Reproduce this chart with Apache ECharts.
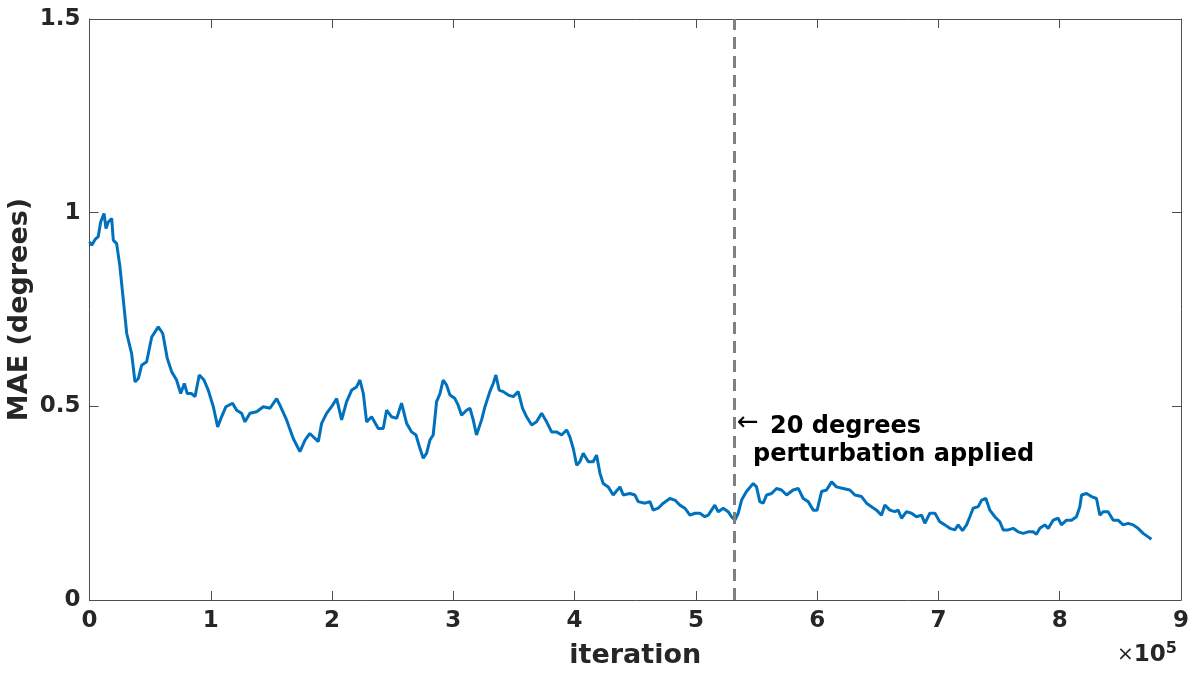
<!DOCTYPE html>
<html>
<head>
	<meta charset="utf-8">
	<title>MAE</title>
</head>
<body style="margin:0">
	<div style="width:1201px;height:677px;" id="chart1"></div>

	<script src="https://cdn.jsdelivr.net/npm/echarts@6/dist/echarts.min.js"></script>
	<script>
	// iteration in units of 1e5
	var iters = [0,0.018,0.046,0.072,0.092,0.120,0.136,0.155,0.183,0.196,0.224,0.251,0.279,0.307,0.347,0.375,0.403,0.430,0.471,0.513,
		0.567,0.604,0.641,0.678,0.718,0.752,0.782,0.806,0.842,0.870,0.905,0.944,0.979,1.021,1.057,1.089,1.125,1.180,1.213,1.254,
		1.282,1.323,1.378,1.433,1.488,1.543,1.570,1.625,1.680,1.735,1.777,1.817,1.859,1.887,1.914,1.955,1.996,2.038,2.079,2.120,
		2.162,2.202,2.230,2.258,2.285,2.326,2.381,2.422,2.450,2.491,2.533,2.573,2.615,2.656,2.692,2.725,2.752,2.780,2.807,2.834,
		2.862,2.890,2.916,2.944,2.972,3.013,3.040,3.068,3.109,3.137,3.164,3.191,3.233,3.261,3.301,3.329,3.351,3.378,3.411,3.453,
		3.494,3.535,3.571,3.604,3.646,3.686,3.728,3.769,3.810,3.851,3.893,3.934,3.961,3.989,4.017,4.043,4.071,4.113,4.153,4.181,
		4.209,4.236,4.277,4.318,4.374,4.401,4.456,4.497,4.524,4.580,4.621,4.648,4.689,4.731,4.785,4.827,4.868,4.909,4.951,4.992,
		5.033,5.074,5.102,5.156,5.184,5.226,5.266,5.294,5.322,5.349,5.377,5.417,5.473,5.500,5.527,5.555,5.583,5.624,5.665,5.706,
		5.748,5.802,5.844,5.885,5.926,5.968,6.000,6.036,6.077,6.119,6.159,6.215,6.269,6.311,6.366,6.407,6.448,6.490,6.530,6.558,
		6.600,6.640,6.668,6.696,6.737,6.778,6.819,6.861,6.888,6.929,6.971,7.011,7.053,7.094,7.135,7.163,7.198,7.232,7.259,7.286,
		7.328,7.356,7.391,7.424,7.465,7.506,7.534,7.575,7.616,7.657,7.699,7.739,7.781,7.808,7.836,7.877,7.905,7.946,7.987,8.014,
		8.056,8.097,8.138,8.166,8.180,8.221,8.262,8.303,8.331,8.358,8.399,8.441,8.481,8.523,8.564,8.605,8.646,8.688,8.729,8.756];
	var mae = [0.925,0.916,0.931,0.938,0.976,0.998,0.959,0.976,0.985,0.929,0.920,0.86,0.774,0.688,0.637,0.563,0.572,0.606,0.615,0.679,
		0.705,0.688,0.624,0.589,0.568,0.533,0.559,0.533,0.533,0.525,0.581,0.568,0.542,0.499,0.447,0.473,0.499,0.508,0.490,0.482,
		0.460,0.482,0.486,0.499,0.495,0.520,0.503,0.465,0.417,0.383,0.413,0.430,0.417,0.409,0.456,0.482,0.499,0.520,0.465,0.512,
		0.542,0.550,0.568,0.533,0.460,0.473,0.443,0.443,0.490,0.473,0.469,0.508,0.456,0.434,0.426,0.391,0.366,0.379,0.413,0.426,
		0.512,0.533,0.568,0.555,0.529,0.520,0.503,0.477,0.490,0.495,0.465,0.426,0.465,0.499,0.538,0.559,0.581,0.542,0.538,0.529,
		0.525,0.538,0.495,0.473,0.452,0.460,0.482,0.460,0.434,0.434,0.426,0.439,0.421,0.391,0.348,0.357,0.379,0.357,0.357,0.374,
		0.327,0.301,0.292,0.271,0.292,0.271,0.275,0.271,0.254,0.250,0.254,0.232,0.237,0.250,0.262,0.258,0.245,0.237,0.219,0.224,
		0.224,0.215,0.219,0.245,0.228,0.237,0.228,0.215,0.206,0.224,0.258,0.280,0.301,0.292,0.254,0.250,0.271,0.275,0.288,0.284,
		0.271,0.284,0.288,0.262,0.254,0.232,0.232,0.280,0.284,0.305,0.292,0.288,0.284,0.271,0.267,0.250,0.241,0.232,0.219,0.245,
		0.232,0.228,0.232,0.211,0.228,0.224,0.215,0.219,0.198,0.224,0.224,0.202,0.194,0.185,0.181,0.194,0.179,0.194,0.215,0.237,
		0.241,0.258,0.262,0.232,0.215,0.202,0.181,0.181,0.185,0.176,0.172,0.176,0.176,0.170,0.185,0.194,0.185,0.206,0.211,0.194,
		0.206,0.206,0.215,0.241,0.271,0.275,0.267,0.262,0.219,0.228,0.228,0.206,0.206,0.194,0.198,0.194,0.185,0.172,0.163,0.157];
	var perturbAt = 5.32;
	var xTicks = [0, 1, 2, 3, 4, 5, 6, 7, 8, 9];
	var yTicks = [0, 0.5, 1, 1.5];

	var axisColor = '#262626';
	var boxColor = '#4d4d4d';
	var font = 'DejaVu Sans';

	function show() {
		var myChart = echarts.init(document.getElementById('chart1'));
		var data = [];
		for (var i = 0; i < iters.length; i++) data.push([iters[i], mae[i]]);

		var tickStyle = { inside: true, length: 9, lineStyle: { color: boxColor, width: 1 } };
		var lineStyle = { onZero: false, lineStyle: { color: boxColor, width: 1 } };

		var option = {
			backgroundColor: '#fff',
			animation: false,
			grid: { left: 89.5, right: 20, top: 19, bottom: 77, containLabel: false, outerBoundsMode: 'none' },
			xAxis: [{
				type: 'value', min: 0, max: 9, interval: 1, position: 'bottom',
				axisLine: lineStyle, axisTick: tickStyle, splitLine: { show: false },
				axisLabel: {
					color: axisColor, fontFamily: font, fontWeight: 'bold', fontSize: 23, margin: 10,
					formatter: function (v) { return xTicks.indexOf(v) >= 0 ? String(v) : ''; }
				},
				name: 'iteration', nameLocation: 'middle', nameGap: 42, nameMoveOverlap: false,
				nameTextStyle: { color: axisColor, fontFamily: font, fontWeight: 'bold', fontSize: 27 }
			}, {
				type: 'value', min: 0, max: 9, interval: 1, position: 'top',
				axisLine: lineStyle, axisTick: tickStyle, axisLabel: { show: false }, splitLine: { show: false }
			}],
			yAxis: [{
				type: 'value', min: 0, max: 1.5, interval: 0.5, position: 'left',
				axisLine: lineStyle, axisTick: tickStyle, splitLine: { show: false },
				axisLabel: {
					color: axisColor, fontFamily: font, fontWeight: 'bold', fontSize: 23, margin: 9,
					formatter: function (v) { return yTicks.indexOf(v) >= 0 ? String(v) : ''; }
				},
				name: 'MAE (degrees)', nameLocation: 'middle', nameGap: 56, nameRotate: 90, nameMoveOverlap: false,
				nameTextStyle: { color: axisColor, fontFamily: font, fontWeight: 'bold', fontSize: 27 }
			}, {
				type: 'value', min: 0, max: 1.5, interval: 0.5, position: 'right',
				axisLine: lineStyle, axisTick: tickStyle, axisLabel: { show: false }, splitLine: { show: false }
			}],
			series: [{
				type: 'line',
				data: data,
				showSymbol: false,
				lineStyle: { color: '#0072BD', width: 3 },
				markLine: {
					silent: true,
					symbol: 'none',
					label: { show: false },
					lineStyle: { color: '#808080', width: 3, type: [12, 7] },
					data: [{ xAxis: perturbAt }]
				}
			}],
			graphic: [{
				type: 'text', left: 737, top: 410,
				style: { text: '\u2190', font: '26px "DejaVu Sans"', fill: '#000' }
			}, {
				type: 'text', left: 770, top: 415,
				style: { text: '20 degrees', font: 'bold 24px "DejaVu Sans"', fill: '#000' }
			}, {
				type: 'text', left: 753, top: 443,
				style: { text: 'perturbation applied', font: 'bold 24px "DejaVu Sans"', fill: '#000' }
			}, {
				type: 'text', left: 1117, top: 641,
				style: {
					text: '{x|\u00d7}{b|10}{sup|5}',
					rich: {
						x: { fontSize: 20, fontFamily: font, fill: axisColor },
						b: { fontSize: 23, fontWeight: 'bold', fontFamily: font, fill: axisColor },
						sup: { fontSize: 16, fontWeight: 'bold', fontFamily: font, fill: axisColor, verticalAlign: 'top', padding: [0, 0, 12, 0] }
					}
				}
			}]
		};

		myChart.setOption(option);
	}

	show();
	</script>
</body>
</html>
